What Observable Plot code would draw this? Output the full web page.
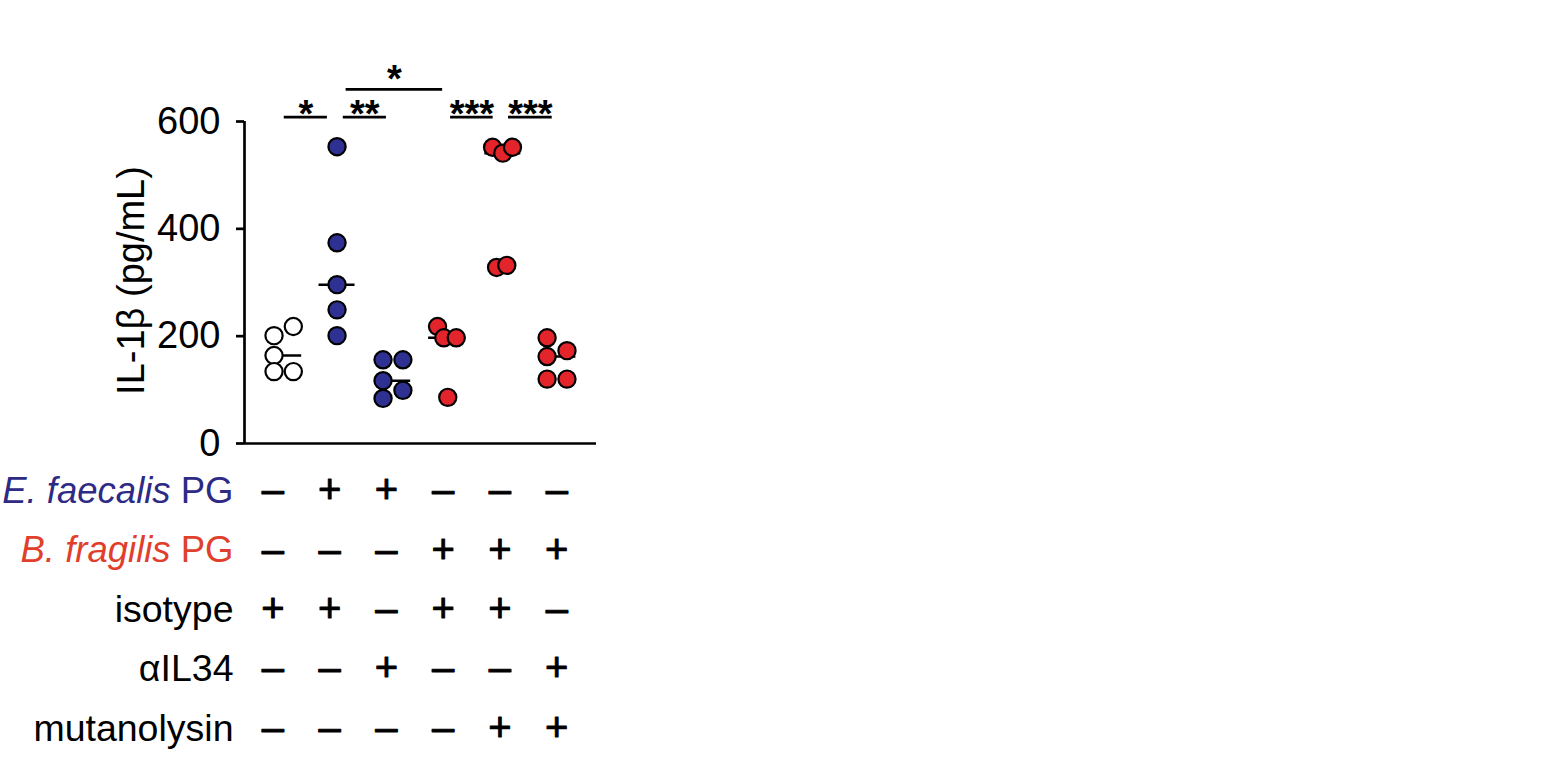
<!DOCTYPE html>
<html>
<head>
<meta charset="utf-8">
<script src="https://cdn.jsdelivr.net/npm/d3@7"></script>
<script src="https://cdn.jsdelivr.net/npm/@observablehq/plot@0.6"></script>
<style>
  html, body { margin: 0; padding: 0; background: #ffffff; }
  #chart svg { display: block; }
</style>
</head>
<body>
<div id="chart"></div>
<script>
// ---- data ----
const groups = [1, 2, 3, 4, 5, 6];
const groupFill = ["#ffffff", "#2e3192", "#2e3192", "#e3242b", "#e3242b", "#e3242b"];

// each dot: group, horizontal position (group units, incl. scatter), IL-1β value (pg/mL)
const dotGroup = [1, 1, 1, 1, 1,  2, 2, 2, 2, 2,  3, 3, 3, 3, 3,  4, 4, 4, 4,  5, 5, 5, 5, 5,  6, 6, 6, 6, 6];
const dotX     = [1.02, 1.36, 1.02, 1.02, 1.36,
                  2.13, 2.13, 2.13, 2.13, 2.13,
                  2.94, 3.29, 2.94, 3.29, 2.94,
                  3.90, 4.01, 4.23, 4.08,
                  4.87, 5.05, 5.22, 4.94, 5.12,
                  5.83, 5.83, 6.18, 5.83, 6.18];
const dotValue = [201, 218, 164, 134, 134,
                  553, 374, 296, 249, 201,
                  156, 156, 117, 99, 84,
                  218, 197, 197, 86,
                  552, 541, 552, 328, 332,
                  197, 162, 173, 120, 120];
const medianX = [1.19, 2.13, 3.11, 4.06, 5.05, 6.02];

const yTicks = [0, 200, 400, 600];
const yLabel = "IL-1β (pg/mL)";

// significance brackets
const sigX1 = [1.20, 2.24, 4.13, 5.15, 2.29];
const sigX2 = [1.96, 3.00, 4.88, 5.92, 3.99];
const sigY = [608, 608, 608, 608, 660];
const sigStarY = [630, 630, 630, 630, 694];
const sigLabel = ["*", "**", "***", "***", "*"];

// treatment table
const rowLabels = ["E. faecalis PG", "B. fragilis PG", "isotype", "αIL34", "mutanolysin"];
const rowItalic = ["E. faecalis", "B. fragilis", "", "", ""];
const rowColors = ["#2e2a85", "#e0402b", "#000000", "#000000", "#000000"];
const signsEfaecalis   = ["–", "+", "+", "–", "–", "–"];
const signsBfragilis   = ["–", "–", "–", "+", "+", "+"];
const signsIsotype     = ["+", "+", "–", "+", "+", "–"];
const signsAIL34       = ["–", "–", "+", "–", "–", "+"];
const signsMutanolysin = ["–", "–", "–", "–", "+", "+"];
const rowSigns = [signsEfaecalis, signsBfragilis, signsIsotype, signsAIL34, signsMutanolysin];

// ---- build ----
const font = "'Liberation Sans', Arial, Helvetica, sans-serif";
const dots = dotValue.map((v, i) => ({group: dotGroup[i], x: dotX[i], value: v, fill: groupFill[dotGroup[i] - 1]}));
const medians = groups.map((g, i) => ({
  x: medianX[i],
  value: d3.median(dots.filter(d => d.group === g), d => d.value)
}));
const sigs = sigLabel.map((s, i) => ({x1: sigX1[i], x2: sigX2[i], y: sigY[i], ys: sigStarY[i], label: s}));

const rowFirst = 47, rowStep = 59.3;
const tableMarks = rowSigns.flatMap((signs, r) => [
  Plot.text(groups, {
    x: d => d, text: (d, i) => signs[i], frameAnchor: "bottom",
    dy: rowFirst + r * rowStep, lineAnchor: "middle", fontSize: 40,
    fill: "#000", stroke: "#000", strokeWidth: 0.9
  }),
  Plot.text([rowLabels[r]], {
    text: d => d, frameAnchor: "bottom-left", dx: -11,
    dy: rowFirst + r * rowStep + 1, textAnchor: "end", lineAnchor: "middle",
    fontSize: r < 2 ? 36.5 : 37.5, fill: rowColors[r]
  })
]);

const svg = Plot.plot({
  width: 1541,
  height: 777,
  marginLeft: 244,
  marginRight: 945,
  marginTop: 121,
  marginBottom: 334,
  x: {domain: [0.5, 6.7], axis: null},
  y: {domain: [0, 600], axis: null},
  color: {type: "identity"},
  style: {fontFamily: font, fontSize: "37px", background: "#ffffff", color: "#000", overflow: "visible"},
  marks: [
    Plot.axisY({ticks: yTicks, tickSize: 8, tickPadding: 16, fontSize: 38, strokeWidth: 2.7, label: null, tickFormat: d => String(d)}),
    Plot.ruleX([0.5], {y1: 0, y2: 600, stroke: "#000", strokeWidth: 2.7}),
    Plot.ruleY([0], {x1: 0.5, x2: 6.7, stroke: "#000", strokeWidth: 2.7}),
    Plot.text([yLabel], {
      text: d => d, frameAnchor: "left", rotate: -90, dx: -113, dy: -2,
      textAnchor: "middle", lineAnchor: "middle", fontSize: 38, fill: "#000"
    }),
    Plot.ruleY(medians, {y: "value", x1: d => d.x - 0.317, x2: d => d.x + 0.317, stroke: "#000", strokeWidth: 2.5}),
    Plot.dot(dots, {x: "x", y: "value", r: 8.6, fill: "fill", stroke: "#000", strokeWidth: 2.2}),
    Plot.ruleY(sigs, {y: "y", x1: "x1", x2: "x2", stroke: "#000", strokeWidth: 2.7}),
    Plot.text(sigs, {x: d => (d.x1 + d.x2) / 2, y: "ys", text: "label", fontSize: 38, fontWeight: "bold", dy: 9, lineAnchor: "middle", fill: "#000"}),
    ...tableMarks
  ]
});

// italic species names inside the coloured row labels
d3.select(svg).selectAll("text").each(function () {
  const t = this.textContent;
  const i = rowLabels.indexOf(t);
  if (i >= 0 && rowItalic[i]) {
    const rest = t.slice(rowItalic[i].length);
    const sel = d3.select(this);
    sel.text(null);
    sel.append("tspan").attr("font-style", "italic").text(rowItalic[i]);
    sel.append("tspan").text(rest.replace(/^ /, "\u00a0"));
  }
});

document.getElementById("chart").appendChild(svg);
</script>
</body>
</html>
